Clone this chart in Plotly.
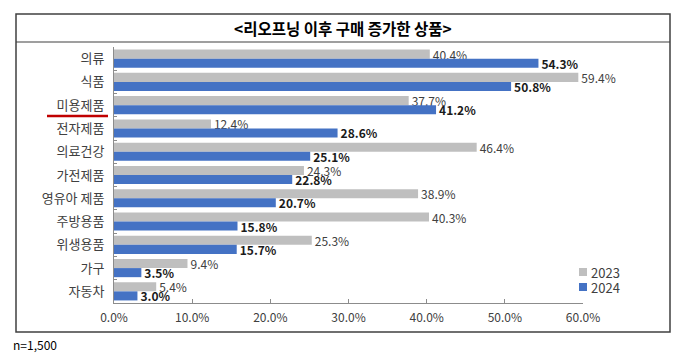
import plotly.graph_objects as go

categories = ["의류", "식품", "미용제품", "전자제품", "의료건강", "가전제품", "영유아 제품", "주방용품", "위생용품", "가구", "자동차"]
values_2023 = [40.4, 59.4, 37.7, 12.4, 46.4, 24.3, 38.9, 40.3, 25.3, 9.4, 5.4]
values_2024 = [54.3, 50.8, 41.2, 28.6, 25.1, 22.8, 20.7, 15.8, 15.7, 3.5, 3.0]
series_names = ["2023", "2024"]
series_colors = ["#BFBFBF", "#4472C4"]
tick_vals = [0, 10, 20, 30, 40, 50, 60]
tick_text = ["0.0%", "10.0%", "20.0%", "30.0%", "40.0%", "50.0%", "60.0%"]
title_text = "&lt;리오프닝 이후 구매 증가한 상품&gt;"
note_text = "n=1,500"

W, H = 680, 357
FONT = "Noto Sans CJK KR"
AXIS_COLOR = "#8C8C8C"

def px(x):
    return x / W

def py(y):
    return 1 - y / H

fig = go.Figure()
fig.add_trace(go.Bar(
    name=series_names[0], y=categories, x=values_2023, orientation="h",
    marker_color=series_colors[0], marker_line_width=0,
    texttemplate="%{x:.1f}%", textposition="outside", cliponaxis=False,
    constraintext="none",
    textfont=dict(family=FONT, size=12, color="#404040"),
))
fig.add_trace(go.Bar(
    name=series_names[1], y=categories, x=values_2024, orientation="h",
    marker_color=series_colors[1], marker_line_width=0,
    texttemplate="<b>%{x:.1f}%</b>", textposition="outside", cliponaxis=False,
    constraintext="none",
    textfont=dict(family=FONT, size=12, color="#1a1a1a"),
))

fig.update_layout(
    width=W, height=H, autosize=False,
    margin=dict(l=0, r=0, t=0, b=0, pad=0, autoexpand=False),
    paper_bgcolor="white", plot_bgcolor="white",
    barmode="group", bargap=0.22, bargroupgap=0.0,
    font=dict(family=FONT, size=12, color="#404040"),
    showlegend=False,
    xaxis=dict(domain=[px(114), px(583)], range=[0, 60], automargin=False,
               tickvals=tick_vals, ticktext=tick_text,
               showgrid=False, zeroline=False,
               showline=True, linecolor=AXIS_COLOR, linewidth=1,
               ticks="inside", ticklen=4, tickcolor=AXIS_COLOR,
               ticklabelstandoff=4,
               tickfont=dict(family=FONT, size=12, color="#404040")),
    yaxis=dict(domain=[py(303), py(47)], autorange="reversed", automargin=False,
               showgrid=False, zeroline=False,
               showline=True, linecolor=AXIS_COLOR, linewidth=1,
               ticks="inside", ticklen=3, tickcolor=AXIS_COLOR,
               tickson="boundaries", ticklabelstandoff=6,
               tickfont=dict(family=FONT, size=13, color="#404040")),
)

shapes = [
    dict(type="rect", xref="paper", yref="paper", x0=px(16), x1=px(670), y0=py(332), y1=py(14),
         line=dict(color="#404040", width=1.5), fillcolor="rgba(0,0,0,0)", layer="above"),
    dict(type="line", xref="paper", yref="paper", x0=px(16), x1=px(670), y0=py(42), y1=py(42),
         line=dict(color="#404040", width=1.2)),
    dict(type="line", xref="paper", yref="paper", x0=px(47), x1=px(108), y0=py(116), y1=py(116),
         line=dict(color="#C00000", width=2.5)),
]
# custom legend
legend_rows = [272, 287]
for name, color, yrow in zip(series_names, series_colors, legend_rows):
    shapes.append(dict(type="rect", xref="paper", yref="paper",
                       x0=px(579), x1=px(587), y0=py(yrow + 4), y1=py(yrow - 4),
                       line=dict(width=0), fillcolor=color))
    fig.add_annotation(text=name, xref="paper", yref="paper",
                       x=px(589), y=py(yrow), xanchor="left", yanchor="middle", showarrow=False,
                       font=dict(family=FONT, size=13, color="#404040"))
fig.update_layout(shapes=shapes)

fig.add_annotation(text="<b>" + title_text + "</b>", xref="paper", yref="paper",
                   x=px(343), y=py(28), xanchor="center", yanchor="middle", showarrow=False,
                   font=dict(family=FONT, size=15.5, color="#000000"))
fig.add_annotation(text=note_text, xref="paper", yref="paper",
                   x=px(11), y=py(344), xanchor="left", yanchor="middle", showarrow=False,
                   font=dict(family=FONT, size=12, color="#000000"))

fig.write_html("out.html",
               config={"displayModeBar": False, "responsive": False},
               post_script="document.body.style.margin='0';document.body.style.overflow='hidden';")
